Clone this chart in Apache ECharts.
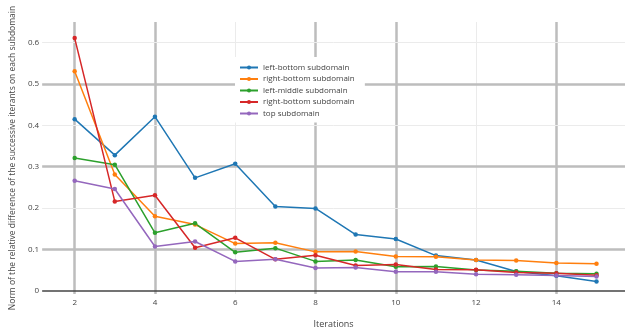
<!DOCTYPE html>
<html>
<head>
<meta charset="utf-8">
<script src="https://cdn.jsdelivr.net/npm/echarts@6/dist/echarts.min.js"></script>
<style>html,body{margin:0;padding:0;background:#fff;}#c{width:625px;height:334px;}</style>
</head>
<body>
<div id="c"></div>
<script>
const iterations = [2,3,4,5,6,7,8,9,10,11,12,13,14,15];
const leftBottom   = [0.415,0.328,0.421,0.273,0.307,0.204,0.199,0.136,0.125,0.085,0.0745,0.0466,0.036,0.0226];
const rightBottom  = [0.531,0.281,0.180,0.160,0.114,0.116,0.094,0.095,0.083,0.082,0.0745,0.073,0.067,0.065];
const leftMiddle   = [0.321,0.305,0.140,0.163,0.093,0.103,0.071,0.0745,0.058,0.0585,0.050,0.047,0.0425,0.041];
const rightBottom2 = [0.611,0.216,0.231,0.104,0.128,0.076,0.086,0.061,0.0635,0.0514,0.0505,0.044,0.0425,0.0377];
const topSub       = [0.266,0.246,0.107,0.119,0.071,0.076,0.055,0.056,0.0457,0.0457,0.040,0.0385,0.037,0.0346];
const seriesNames = ['left-bottom subdomain','right-bottom subdomain','left-middle subdomain','right-bottom subdomain ','top subdomain'];
const xTicks = [2,4,6,8,10,12,14];
const yTicks = [0,0.1,0.2,0.3,0.4,0.5,0.6];

const colors = ['#1f77b4','#ff7f0e','#2ca02c','#d62728','#9467bd'];
const allData = [leftBottom,rightBottom,leftMiddle,rightBottom2,topSub];
const font = '"Open Sans", sans-serif';

const thick = {color:'#bdbdbd', width:2.5, type:'solid'};
const thin = {color:'#ebebeb', width:1, type:'solid'};
const xThin = new Set([6,12]);
const gridLines = [];
xTicks.forEach(v => gridLines.push({xAxis:v, lineStyle: xThin.has(v)?thin:thick}));
yTicks.forEach((v,i) => {
  if (v === 0) gridLines.push({yAxis:v, lineStyle:{color:'#444', width:1.5, type:'solid'}});
  else gridLines.push({yAxis:v, lineStyle: (i % 2 === 1) ? thick : thin});
});

const series = allData.map((d,i) => ({
  name: seriesNames[i],
  type: 'line',
  data: iterations.map((x,j) => [x, d[j]]),
  symbol: 'circle',
  symbolSize: 4.5,
  lineStyle: {width: 1.5, color: colors[i]},
  itemStyle: {color: colors[i]},
  z: 3
}));
series.unshift({
  type: 'line', data: [], silent: true, z: 1,
  markLine: {silent: true, z: 1, symbol: ['none','none'], label: {show:false}, animation:false, data: gridLines}
});

const chart = echarts.init(document.getElementById('c'));
chart.setOption({
  animation: false,
  color: colors,
  grid: {left: 39, right: 0, top: 22, bottom: 39, containLabel: false},
  legend: {
    orient: 'vertical', left: 235, top: 57,
    padding: [6.5, 8, 5, 4],
    backgroundColor: '#fff',
    itemWidth: 18, itemHeight: 5, itemGap: 3.5,
    textStyle: {fontFamily: font, fontSize: 8, color: '#444'},
    data: seriesNames,
    z: 10
  },
  xAxis: {
    type: 'value', min: 1.19, max: 15.71,
    name: 'Iterations', nameLocation: 'middle', nameGap: 26,
    nameTextStyle: {fontFamily: font, fontSize: 9, color: '#444'},
    axisLine: {show: false, onZero: false},
    axisTick: {show: false, customValues: xTicks},
    splitLine: {show: false},
    axisLabel: {customValues: xTicks, fontFamily: font, fontSize: 8, color: '#444', margin: 5}
  },
  yAxis: {
    type: 'value', min: -0.0079, max: 0.65,
    name: 'Norm of the relative difference of the successive iterants on each subdomain',
    nameLocation: 'middle', nameGap: 22,
    nameTextStyle: {fontFamily: font, fontSize: 8.5, color: '#444'},
    axisLine: {show: false},
    axisTick: {show: false, customValues: yTicks},
    splitLine: {show: false},
    axisLabel: {customValues: yTicks, fontFamily: font, fontSize: 8, color: '#444', margin: 3,
      formatter: v => String(Math.round(v*10)/10)}
  },
  series: series
});
</script>
</body>
</html>
